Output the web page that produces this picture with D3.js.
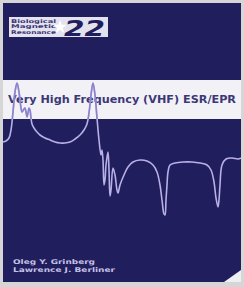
<!DOCTYPE html>
<html>
<head>
<meta charset="utf-8">
<script src="https://cdn.jsdelivr.net/npm/d3@7"></script>
<style>
  body { margin: 0; background: #d6d6d6; }
  svg { display: block; }
</style>
</head>
<body>
<svg width="244" height="287"></svg>
<script>
// spectrum trace (field in arbitrary units, signal in arbitrary units)
var fieldValues = [0, 3, 6, 8, 10, 12, 14, 16, 18, 19, 21, 22, 23, 24, 25, 26, 27, 28, 29, 31,
    34, 37, 42, 47, 52, 57, 62, 67, 72, 77, 81, 84, 86, 88, 90, 92, 94, 96, 98, 99,
    100, 101, 102, 103, 105, 106, 107, 108, 110, 112, 114, 115, 117, 121, 125, 130, 137, 144, 150, 154,
    157, 159, 161, 162, 163, 164, 165, 167, 172, 180, 189, 197, 204, 208, 211, 213, 215, 216, 217, 219,
    223, 229, 235, 238];
var signalValues = [78, 79, 82, 90, 108, 128, 137, 128, 112, 108, 111, 112, 108, 103, 107, 112, 110, 102, 96, 92,
    88, 85, 82, 80, 78, 77, 77, 78, 81, 85, 90, 96, 107, 125, 137, 125, 102, 80, 65, 70,
    60, 35, 40, 55, 68, 50, 24, 30, 52, 45, 30, 27, 35, 45, 53, 58, 60, 59, 55, 48,
    35, 20, 6, 5, 20, 35, 48, 55, 57, 58, 58, 57, 55, 50, 38, 22, 13, 20, 35, 55,
    61, 62, 61, 62];

var seriesTag = ["Biological", "Magnetic", "Resonance"];
var volumeNo = "22";
var title = "Very High Frequency (VHF) ESR/EPR";
var authors = ["Oleg Y. Grinberg", "Lawrence J. Berliner"];

var data = fieldValues.map((f, i) => ({ field: f, signal: signalValues[i] }));

var svg = d3.select("svg"),
    navy = "#201e5c";

// cover panel
svg.append("rect").attr("x", 3).attr("y", 3).attr("width", 238).attr("height", 279).attr("fill", navy);

// series badge
var badge = svg.append("g");
badge.append("rect").attr("x", 9).attr("y", 17).attr("width", 99).attr("height", 20).attr("fill", "#e4e2ee");
badge.selectAll("text.tag")
    .data(seriesTag)
    .enter().append("text")
    .attr("class", "tag")
    .attr("x", 11)
    .attr("y", (d, i) => 22.5 + i * 5.6)
    .attr("font-family", "DejaVu Sans")
    .attr("font-weight", "bold")
    .attr("font-size", 5)
    .attr("textLength", 45)
    .attr("lengthAdjust", "spacingAndGlyphs")
    .attr("fill", "#3a3774")
    .text(d => d);
badge.append("path")
    .attr("d", d3.symbol().type(d3.symbolStar).size(60)())
    .attr("transform", "translate(60,27)")
    .attr("fill", "#ffffff");
badge.append("text")
    .attr("x", 64).attr("y", 35.5)
    .attr("font-family", "DejaVu Sans")
    .attr("font-weight", "bold")
    .attr("font-style", "italic")
    .attr("font-size", 21)
    .attr("textLength", 41)
    .attr("lengthAdjust", "spacingAndGlyphs")
    .attr("fill", navy)
    .text(volumeNo);

// title band
svg.append("rect").attr("x", 3).attr("y", 80).attr("width", 238).attr("height", 39).attr("fill", "#f2f1f6");
svg.append("defs").append("clipPath").attr("id", "band")
    .append("rect").attr("x", 3).attr("y", 80).attr("width", 238).attr("height", 39);
svg.append("text")
    .attr("x", 8).attr("y", 103)
    .attr("font-family", "DejaVu Sans")
    .attr("font-weight", "bold")
    .attr("font-size", 10.5)
    .attr("textLength", 228)
    .attr("lengthAdjust", "spacingAndGlyphs")
    .attr("fill", "#3c3878")
    .text(title);

// spectrum
var x = d3.scaleLinear().domain([0, 238]).range([3, 241]);
var y = d3.scaleLinear().domain([0, 140]).range([220, 80]);

var line = d3.line()
    .x(d => x(d.field))
    .y(d => y(d.signal))
    .curve(d3.curveCatmullRom.alpha(0.5));

svg.append("path")
    .datum(data)
    .attr("fill", "none")
    .attr("stroke", "#b8b0e6")
    .attr("stroke-width", 1.6)
    .attr("stroke-linejoin", "round")
    .attr("d", line);

svg.append("path")
    .datum(data)
    .attr("clip-path", "url(#band)")
    .attr("fill", "none")
    .attr("stroke", "#8c82cc")
    .attr("stroke-width", 1.6)
    .attr("stroke-linejoin", "round")
    .attr("d", line);

// authors
svg.selectAll("text.author")
    .data(authors)
    .enter().append("text")
    .attr("class", "author")
    .attr("x", 13)
    .attr("y", (d, i) => 264 + i * 8)
    .attr("font-family", "DejaVu Sans")
    .attr("font-weight", "bold")
    .attr("font-size", 6.5)
    .attr("textLength", (d, i) => i ? 102 : 82)
    .attr("lengthAdjust", "spacingAndGlyphs")
    .attr("fill", "#c4c0e6")
    .text(d => d);

// page curl corner
svg.append("path")
    .attr("d", "M224,282 L241,270 L241,282 Z")
    .attr("fill", "#eeeef4");
</script>
</body>
</html>
